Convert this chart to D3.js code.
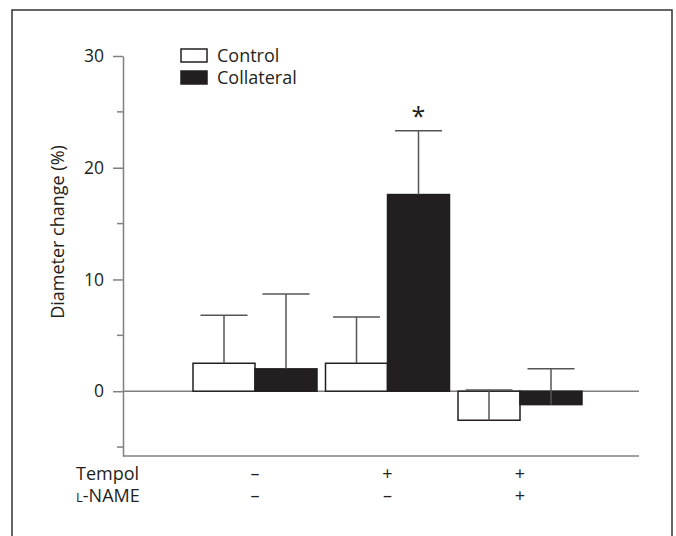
<!DOCTYPE html>
<html>
<head>
<meta charset="utf-8">
<script src="https://cdn.jsdelivr.net/npm/d3@7"></script>
<style>
  body { margin: 0; background: #fff; }
  svg text { font-family: "Open Sans", "Noto Sans", sans-serif; fill: #231f20; }
</style>
</head>
<body>
<div id="chart"></div>
<script>
const groups = ["A", "B", "C"];
const tempol = ["–", "+", "+"];
const lname = ["–", "–", "+"];
const series = ["Control", "Collateral"];
const control = [2.5, 2.5, -2.6];
const controlErr = [4.3, 4.15, 2.7];
const collateral = [2.0, 17.6, -1.2];
const collateralErr = [6.7, 5.7, 3.2];
const yTicks = [0, 10, 20, 30];
const yMinor = [-5, 5, 15, 25];

const W = 676, H = 536;
const ink = "#231f20", grey = "#808080";

const svg = d3.select("#chart")
  .append("svg")
  .attr("width", W)
  .attr("height", H);

// frame
svg.append("rect")
  .attr("x", 12).attr("y", 10)
  .attr("width", 660).attr("height", 540)
  .attr("fill", "none")
  .attr("stroke", "#333")
  .attr("stroke-width", 1.5);

const y = d3.scaleLinear().domain([-5.8, 30]).range([456, 56]);
const x = d3.scalePoint().domain(groups).range([255, 520]);
const xs = d3.scaleBand().domain(series).range([-62, 62]);

const axisLeft = 123, axisRight = 639;

// y axis
const yAxis = svg.append("g")
  .attr("transform", `translate(${axisLeft},0)`)
  .call(d3.axisLeft(y).tickValues(yTicks).tickSize(10).tickPadding(9).tickSizeOuter(0))
  .call(g => g.select(".domain").attr("stroke", grey).attr("stroke-width", 1.5));
yAxis.selectAll(".tick line").attr("stroke", grey).attr("stroke-width", 1.5);
yAxis.selectAll(".tick text")
  .attr("font-size", 17.5)
  .attr("font-family", "Open Sans, Noto Sans, sans-serif")
  .attr("fill", ink);

svg.append("g")
  .selectAll("line")
  .data(yMinor)
  .enter().append("line")
  .attr("x1", axisLeft - 6).attr("x2", axisLeft)
  .attr("y1", d => y(d)).attr("y2", d => y(d))
  .attr("stroke", grey).attr("stroke-width", 1.5);

// bottom line and zero line
svg.append("line")
  .attr("x1", axisLeft).attr("x2", axisRight)
  .attr("y1", y.range()[0]).attr("y2", y.range()[0])
  .attr("stroke", grey).attr("stroke-width", 1.5);
svg.append("line")
  .attr("x1", axisLeft).attr("x2", axisRight)
  .attr("y1", y(0)).attr("y2", y(0))
  .attr("stroke", grey).attr("stroke-width", 1.5);

// bars
const rows = [];
groups.forEach((g, i) => {
  rows.push({ g, s: "Control", v: control[i], e: controlErr[i] });
  rows.push({ g, s: "Collateral", v: collateral[i], e: collateralErr[i] });
});

const bar = svg.append("g")
  .selectAll("g")
  .data(rows)
  .enter().append("g")
  .attr("transform", d => `translate(${x(d.g) + xs(d.s)},0)`);

bar.append("rect")
  .attr("x", 0)
  .attr("width", xs.bandwidth())
  .attr("y", d => y(Math.max(0, d.v)))
  .attr("height", d => Math.abs(y(d.v) - y(0)))
  .attr("fill", d => d.s === "Control" ? "#fff" : ink)
  .attr("stroke", ink)
  .attr("stroke-width", 1.5);

// error bars
const cx = xs.bandwidth() / 2;
bar.append("line")
  .attr("x1", cx).attr("x2", cx)
  .attr("y1", d => y(d.v)).attr("y2", d => y(d.v + d.e))
  .attr("stroke", "#555").attr("stroke-width", 1.5);
bar.append("line")
  .attr("x1", cx - 23.5).attr("x2", cx + 23.5)
  .attr("y1", d => y(d.v + d.e)).attr("y2", d => y(d.v + d.e))
  .attr("stroke", "#555").attr("stroke-width", 1.5);

// significance mark
svg.append("text")
  .attr("x", x("B") + xs("Collateral") + cx)
  .attr("y", y(collateral[1] + collateralErr[1]) - 6)
  .attr("text-anchor", "middle")
  .attr("font-size", 25)
  .text("*");

// legend
const legend = svg.append("g")
  .selectAll("g")
  .data(series)
  .enter().append("g")
  .attr("transform", (d, i) => `translate(181,${49 + i * 22})`);
legend.append("rect")
  .attr("width", 26).attr("height", 13)
  .attr("fill", d => d === "Control" ? "#fff" : ink)
  .attr("stroke", ink).attr("stroke-width", 1.5);
legend.append("text")
  .attr("x", 36).attr("y", 13)
  .attr("font-size", 18)
  .text(d => d);

// y label
svg.append("text")
  .attr("transform", "translate(64,232) rotate(-90)")
  .attr("text-anchor", "middle")
  .attr("font-size", 18)
  .text("Diameter change (%)");

// treatment rows
svg.append("text")
  .attr("x", 76).attr("y", 480)
  .attr("font-size", 18)
  .text("Tempol");
const ln = svg.append("text")
  .attr("x", 76).attr("y", 502)
  .attr("font-size", 18);
ln.append("tspan").attr("font-size", 13).text("L");
ln.append("tspan").text("-NAME");

svg.append("g")
  .selectAll("text")
  .data(groups)
  .enter().append("text")
  .attr("x", d => x(d))
  .attr("y", 480)
  .attr("text-anchor", "middle")
  .attr("font-size", 18)
  .text((d, i) => tempol[i]);
svg.append("g")
  .selectAll("text")
  .data(groups)
  .enter().append("text")
  .attr("x", d => x(d))
  .attr("y", 502)
  .attr("text-anchor", "middle")
  .attr("font-size", 18)
  .text((d, i) => lname[i]);
</script>
</body>
</html>
